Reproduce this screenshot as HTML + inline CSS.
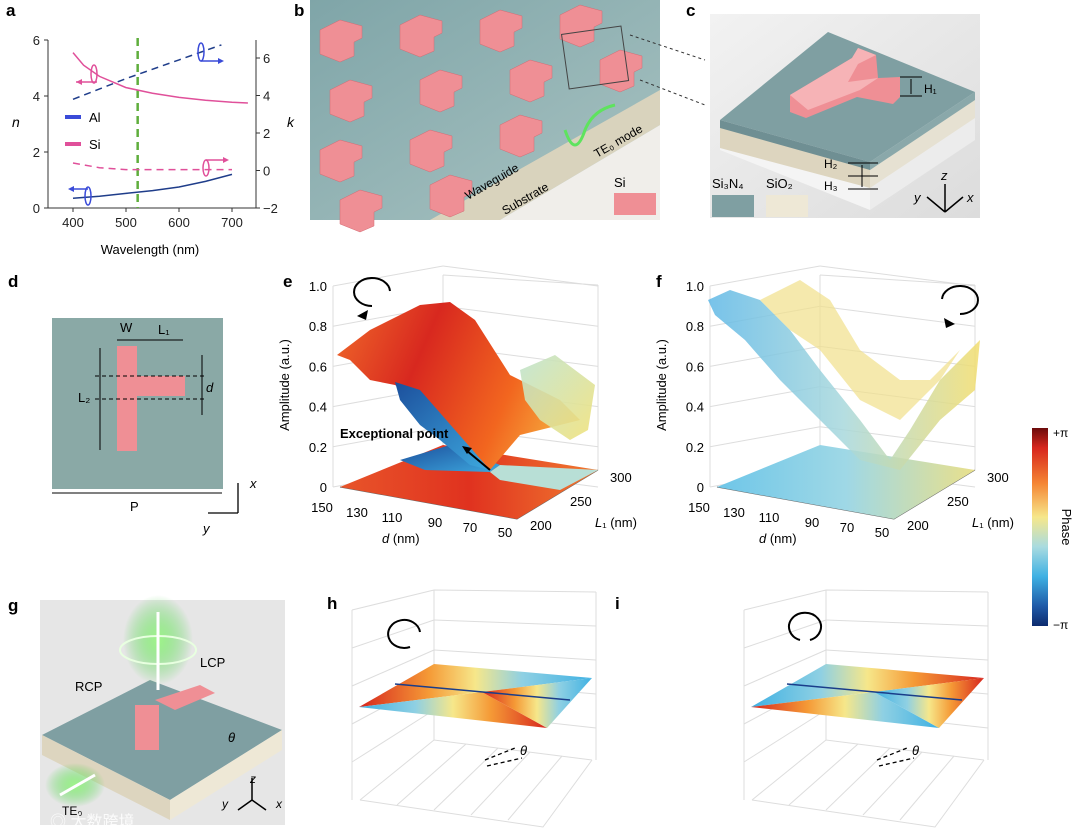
<!DOCTYPE html>
<html><head><meta charset="utf-8"><style>
body{margin:0;background:#fff;}
svg{display:block;font-family:"Liberation Sans","Noto Sans CJK SC",sans-serif;}
</style></head><body>
<svg id="fig" width="1076" height="835" viewBox="0 0 1076 835">
<defs>
<linearGradient id="cbar" x1="0" y1="0" x2="0" y2="1">
<stop offset="0" stop-color="#6b0b0b"/><stop offset="0.1" stop-color="#d7261e"/><stop offset="0.28" stop-color="#f58634"/><stop offset="0.45" stop-color="#f6e78a"/><stop offset="0.6" stop-color="#a9dbe0"/><stop offset="0.75" stop-color="#3fb1e3"/><stop offset="0.9" stop-color="#1f5aa8"/><stop offset="1" stop-color="#0d2b6e"/></linearGradient>
<linearGradient id="orange" x1="0" y1="0" x2="1" y2="0.3"><stop offset="0" stop-color="#f06a2a"/><stop offset="0.4" stop-color="#d8281f"/><stop offset="0.8" stop-color="#f2661f"/><stop offset="1" stop-color="#f59a36"/></linearGradient>
<linearGradient id="blueS" x1="0" y1="0" x2="1" y2="1"><stop offset="0" stop-color="#1c4f9c"/><stop offset="1" stop-color="#3da8de"/></linearGradient>
<linearGradient id="ygS" x1="0" y1="0" x2="1" y2="1"><stop offset="0" stop-color="#bfe3cf"/><stop offset="1" stop-color="#f1e27a"/></linearGradient>
<linearGradient id="floorE" x1="0" y1="0" x2="1" y2="0"><stop offset="0" stop-color="#e8552a"/><stop offset="0.5" stop-color="#e0321f"/><stop offset="1" stop-color="#f07a30"/></linearGradient>
<linearGradient id="floorF" x1="0" y1="0" x2="1" y2="0"><stop offset="0" stop-color="#6ec6e8"/><stop offset="0.5" stop-color="#9fd8e6"/><stop offset="1" stop-color="#e9e08c"/></linearGradient>
<linearGradient id="fsurf" x1="0" y1="0" x2="1" y2="0"><stop offset="0" stop-color="#5fb8e6"/><stop offset="0.5" stop-color="#a8d8dc"/><stop offset="1" stop-color="#f2dd6e"/></linearGradient>
<linearGradient id="phaseTop" x1="0" y1="0" x2="1" y2="0"><stop offset="0" stop-color="#d7261e"/><stop offset="0.3" stop-color="#f59a36"/><stop offset="0.5" stop-color="#f6e78a"/><stop offset="0.7" stop-color="#8fd0e3"/><stop offset="1" stop-color="#3fb1e3"/></linearGradient>
<linearGradient id="phaseBot" x1="0" y1="0" x2="1" y2="0"><stop offset="0" stop-color="#3fb1e3"/><stop offset="0.3" stop-color="#8fd0e3"/><stop offset="0.5" stop-color="#f6e78a"/><stop offset="0.7" stop-color="#f59a36"/><stop offset="1" stop-color="#d7261e"/></linearGradient>
<linearGradient id="bbg" x1="0" y1="0" x2="1" y2="1"><stop offset="0" stop-color="#7fa5a8"/><stop offset="1" stop-color="#a9c3c2"/></linearGradient>
<linearGradient id="cbg" x1="0" y1="0" x2="1" y2="1"><stop offset="0" stop-color="#f2f2f2"/><stop offset="1" stop-color="#dcdcdc"/></linearGradient>
<radialGradient id="glow"><stop offset="0" stop-color="#9ff58a"/><stop offset="1" stop-color="#3fcf3f" stop-opacity="0"/></radialGradient>
</defs>

<!-- Panel a -->
<g id="panel-a">
<text x="6" y="16" font-size="17" font-weight="bold">a</text>
<g id="a-axes" stroke="#333" stroke-width="1" fill="none">
<line x1="48" y1="40" x2="48" y2="208"/>
<line x1="48" y1="208" x2="256" y2="208"/>
<line x1="256" y1="40" x2="256" y2="208"/>
</g>
<g id="a-ticks" font-size="13" fill="#222"></g>
<g id="a-lines"></g>
<text x="12" y="127" font-size="14" font-style="italic">n</text>
<text x="287" y="127" font-size="14" font-style="italic">k</text>
<text x="150" y="254" font-size="13" text-anchor="middle">Wavelength (nm)</text>
<g>
<rect x="65" y="115" width="16" height="4" fill="#3a4bd8"/>
<text x="89" y="122" font-size="13">Al</text>
<rect x="65" y="142" width="16" height="4" fill="#e0509a"/>
<text x="89" y="149" font-size="13">Si</text>
</g>
<g fill="none" stroke-width="1.5">
<ellipse cx="94" cy="74" rx="3" ry="9" stroke="#e0509a"/><line x1="97" y1="82" x2="76" y2="82" stroke="#e0509a"/><path d="M76 82 l6 -3 v6z" fill="#e0509a"/>
<ellipse cx="201" cy="52" rx="3" ry="9" stroke="#3a4bd8"/><line x1="201" y1="61" x2="222" y2="61" stroke="#3a4bd8"/><path d="M224 61 l-6 -3 v6z" fill="#3a4bd8"/>
<ellipse cx="88" cy="196" rx="3" ry="9" stroke="#3a4bd8"/><line x1="88" y1="189" x2="70" y2="189" stroke="#3a4bd8"/><path d="M68 189 l6 -3 v6z" fill="#3a4bd8"/>
<ellipse cx="206" cy="168" rx="3" ry="8" stroke="#e0509a"/><line x1="206" y1="160" x2="226" y2="160" stroke="#e0509a"/><path d="M229 160 l-6 -3 v6z" fill="#e0509a"/>
</g>
</g>

<!-- Panel b -->
<g>
<text x="294" y="16" font-size="17" font-weight="bold">b</text>
<rect x="310" y="0" width="350" height="220" fill="url(#bbg)"/>
<path d="M430 220 L660 90 L660 125 L500 220Z" fill="#d9d3bd"/>
<path d="M500 220 L660 125 L660 220Z" fill="#f0eeea"/>
<g id="b-blocks" fill="#ef8f95" stroke="#d46a72" stroke-width="0.5"></g>
<rect x="565" y="30" width="60" height="55" fill="none" stroke="#444" transform="rotate(-8 595 57)"/>
<text x="468" y="200" font-size="12" transform="rotate(-30 468 200)">Waveguide</text>
<text x="505" y="215" font-size="12" transform="rotate(-30 505 215)">Substrate</text>
<text x="597" y="158" font-size="12" transform="rotate(-30 597 158)">TE₀ mode</text>
<path d="M565 130 q10 30 20 0 q8 -20 30 -25" fill="none" stroke="#5ee35e" stroke-width="3"/>
<text x="614" y="187" font-size="13">Si</text>
<rect x="614" y="193" width="42" height="22" fill="#ef8f95"/>
</g>
<line x1="630" y1="35" x2="705" y2="60" stroke="#333" stroke-dasharray="3,3"/>
<line x1="640" y1="80" x2="705" y2="105" stroke="#333" stroke-dasharray="3,3"/>

<!-- Panel c -->
<g>
<text x="686" y="16" font-size="17" font-weight="bold">c</text>
<rect x="710" y="14" width="270" height="204" fill="url(#cbg)"/>
<path d="M720 127 L870 165 L870 210 L720 150Z" fill="#f4f4f4"/>
<path d="M870 165 L975 98 L975 140 L870 210Z" fill="#ececec"/>
<path d="M720 127 L870 165 L870 188 L720 148Z" fill="#ddd5bf"/>
<path d="M870 165 L975 98 L975 118 L870 188Z" fill="#e6e1d2"/>
<path d="M720 120 L828 32 L975 92 L870 162 Z" fill="#7f9fa2"/>
<path d="M720 120 L870 162 L870 170 L720 128Z" fill="#6f8f93"/>
<path d="M870 162 L975 92 L975 100 L870 170Z" fill="#8aa8aa"/>
<path d="M790 95 L852 58 L858 48 L876 55 L878 78 L900 77 L900 97 L893 104 L857 97 L806 118 L790 112Z" fill="#ef8f95"/>
<path d="M790 95 L852 58 L858 48 L876 55 L858 64 L848 82 L878 78 L860 90 L808 110Z" fill="#f6b3b6"/>
<text x="924" y="93" font-size="12">H₁</text>
<text x="824" y="168" font-size="12">H₂</text>
<text x="824" y="190" font-size="12">H₃</text>
<path d="M900 77 h22 M900 96 h22 M911 79 v15 M848 163 h30 M848 176 h30 M848 189 h30 M862 165 v22" stroke="#000" fill="none"/>
<text x="712" y="188" font-size="13">Si₃N₄</text>
<rect x="712" y="195" width="42" height="22" fill="#7f9fa2"/>
<text x="766" y="188" font-size="13">SiO₂</text>
<rect x="766" y="195" width="42" height="22" fill="#eee8d6"/>
<g stroke="#000" stroke-width="1.5" fill="none"><path d="M945 212 v-28 M945 212 l-18 -15 M945 212 l18 -15"/></g>
<text x="941" y="180" font-size="13" font-style="italic">z</text><text x="914" y="202" font-size="13" font-style="italic">y</text><text x="967" y="202" font-size="13" font-style="italic">x</text>
</g>

<!-- Panel d -->
<g>
<text x="8" y="287" font-size="17" font-weight="bold">d</text>
<rect x="52" y="318" width="171" height="171" fill="#8aa9a6"/>
<path d="M117 346 h20 v30 h48 v20 h-48 v55 h-20z" fill="#ef8f95"/>
<g stroke="#000" fill="none" stroke-width="1">
<path d="M117 340 h20 M137 340 h46 M100 348 v102 M202 355 v60 M52 493 h170"/>
<path d="M95 376 h110 M95 399 h110" stroke-dasharray="4,3"/>
</g>
<text x="120" y="332" font-size="13">W</text>
<text x="158" y="334" font-size="13">L₁</text>
<text x="78" y="402" font-size="13">L₂</text>
<text x="206" y="392" font-size="13" font-style="italic">d</text>
<text x="130" y="511" font-size="13">P</text>
<path d="M238 513 v-30 M238 513 h-30" stroke="#000" stroke-width="1.3" fill="none"/>
<text x="250" y="488" font-size="13" font-style="italic">x</text><text x="203" y="533" font-size="13" font-style="italic">y</text>
</g>

<!-- Panel e -->
<g>
<text x="283" y="287" font-size="17" font-weight="bold">e</text>
<g id="e-grid" stroke="#ddd" fill="none"></g>
<path d="M340 487 L517 519 L598 470 L443 445 Z" fill="url(#floorE)"/>
<path d="M400 460 L450 445 L500 465 L490 472 L425 470Z" fill="url(#blueS)"/>
<path d="M490 472 L500 465 L598 470 L560 490 L500 480Z" fill="#b8dfd6"/>
<path d="M337 355 L370 330 L420 305 L450 302 L475 320 L510 375 L560 400 L580 420 L560 425 L520 435 L490 470 L455 440 L420 400 L395 385 L370 380 L350 360Z" fill="url(#orange)"/>
<path d="M395 382 L420 390 L455 430 L490 470 L470 465 L440 440 L420 425 L400 400Z" fill="url(#blueS)"/>
<path d="M520 370 L555 355 L595 385 L588 430 L570 440 L540 420 L525 400Z" fill="url(#ygS)" opacity="0.9"/>
<path d="M372 306 a18 14 0 1 1 18 -15" fill="none" stroke="#000" stroke-width="2"/><path d="M357 316 l11 -6 -2 10z" fill="#000"/>
<text x="340" y="438" font-size="13" font-weight="bold">Exceptional point</text>
<line x1="490" y1="470" x2="466" y2="450" stroke="#000" stroke-width="2"/><path d="M462 446 l10 2 -5 6z" fill="#000"/>
<g id="e-ticks" font-size="13"></g>
<text x="289" y="385" font-size="13" text-anchor="middle" transform="rotate(-90 289 385)">Amplitude (a.u.)</text>
<text x="382" y="543" font-size="13"><tspan font-style="italic">d</tspan> (nm)</text>
<text x="595" y="527" font-size="13"><tspan font-style="italic">L</tspan>₁ (nm)</text>
</g>

<!-- Panel f -->
<g>
<text x="656" y="287" font-size="17" font-weight="bold">f</text>
<g id="f-grid" stroke="#ddd" fill="none"></g>
<path d="M717 487 L894 519 L975 470 L820 445 Z" fill="url(#floorF)"/>
<path d="M708 300 L730 290 L760 300 L790 330 L820 370 L860 420 L890 460 L910 430 L940 380 L980 340 L975 390 L940 420 L900 470 L860 460 L820 420 L780 380 L745 340 L715 315Z" fill="url(#fsurf)" opacity="0.85"/>
<path d="M760 300 L800 280 L830 300 L860 350 L900 380 L930 380 L960 350 L940 380 L900 420 L860 400 L820 350 L790 330Z" fill="#f1e08a" opacity="0.7"/>
<path d="M960 314 a18 14 0 1 0 -18 -15" fill="none" stroke="#000" stroke-width="2"/><path d="M955 324 l-11 -6 2 10z" fill="#000"/>
<g id="f-ticks" font-size="13"></g>
<text x="666" y="385" font-size="13" text-anchor="middle" transform="rotate(-90 666 385)">Amplitude (a.u.)</text>
<text x="759" y="543" font-size="13"><tspan font-style="italic">d</tspan> (nm)</text>
<text x="972" y="527" font-size="13"><tspan font-style="italic">L</tspan>₁ (nm)</text>
</g>

<!-- Colorbar -->
<g>
<rect x="1032" y="428" width="16" height="198" fill="url(#cbar)"/>
<text x="1053" y="437" font-size="12">+π</text>
<text x="1053" y="629" font-size="12">−π</text>
<text x="1062" y="527" font-size="13" text-anchor="middle" transform="rotate(90 1062 527)">Phase</text>
</g>

<!-- Panel g -->
<g>
<text x="8" y="611" font-size="17" font-weight="bold">g</text>
<rect x="40" y="600" width="245" height="225" fill="#e6e6e6"/>
<path d="M42 735 L150 680 L282 730 L170 800Z" fill="#7f9fa2"/>
<path d="M42 735 L170 800 L170 820 L42 755Z" fill="#ddd5bf"/>
<path d="M170 800 L282 730 L282 750 L170 820Z" fill="#eee8d6"/>
<rect x="135" y="705" width="24" height="45" fill="#ef8f95"/><path d="M155 700 l45 -15 l15 8 l-40 17z" fill="#ef8f95"/>
<ellipse cx="158" cy="640" rx="35" ry="45" fill="url(#glow)"/>
<ellipse cx="158" cy="650" rx="38" ry="14" fill="none" stroke="#e8ffe0" stroke-width="2"/>
<line x1="158" y1="690" x2="158" y2="612" stroke="#fff" stroke-width="3"/>
<text x="200" y="667" font-size="13">LCP</text>
<text x="75" y="691" font-size="13">RCP</text>
<ellipse cx="75" cy="785" rx="30" ry="22" fill="url(#glow)"/>
<line x1="60" y1="795" x2="95" y2="775" stroke="#fff" stroke-width="3"/>
<text x="62" y="815" font-size="12">TE₀</text>
<text x="228" y="742" font-size="13" font-style="italic">θ</text>
<path d="M252 800 v-22 M252 800 l-14 10 M252 800 l14 10" stroke="#000" stroke-width="1.5" fill="none"/>
<text x="250" y="783" font-size="12" font-style="italic">z</text><text x="222" y="808" font-size="12" font-style="italic">y</text><text x="276" y="808" font-size="12" font-style="italic">x</text>
<text x="50" y="827" font-size="16" fill="#fff" opacity="0.85">◎ 大数跨境</text>
</g>

<!-- Panels h, i -->
<g id="hi"></g>
</svg>
<script>
const NS='http://www.w3.org/2000/svg';
function mk(parent,tag,attrs,text){const e=document.createElementNS(NS,tag);for(const k in attrs)e.setAttribute(k,attrs[k]);if(text!==undefined)e.textContent=text;parent.appendChild(e);return e;}

// ---- Panel a data ----
const wlSiN=[400,420,450,500,550,600,650,700,730];
const siN=[5.55,5.1,4.7,4.3,4.1,3.95,3.85,3.78,3.75];
const wlAlN=[400,450,500,550,600,650,700];
const alN=[0.35,0.42,0.52,0.62,0.75,0.95,1.2];
const wlAlK=[400,500,600,680];
const alK=[3.8,4.9,5.9,6.7];
const wlSiK=[400,450,500,550,600,650,700];
const siK=[0.4,0.15,0.05,0.05,0.05,0.05,0.05];
const xTicks=[400,500,600,700];
const nTicks=[0,2,4,6];
const kTicks=[-2,0,2,4,6];
const markerWl=522;

const xS=w=>73+(w-400)*159/300;
const nS=n=>208-n*28;
const kS=k=>170.5-k*18.75;
const aT=document.getElementById('a-ticks');
xTicks.forEach(t=>{const l=mk(aT,'line',{x1:xS(t),x2:xS(t),y1:208,y2:212,stroke:'#333'});


const tx=mk(aT,'text',{x:xS(t),y:227,'text-anchor':'middle'},t);

});
nTicks.forEach(t=>{const tx=mk(aT,'text',{x:40,y:nS(t)+5,'text-anchor':'end'},t);


mk(aT,'line',{x1:44,x2:48,y1:nS(t),y2:nS(t),stroke:'#333'});});
kTicks.forEach(t=>{const tx=mk(aT,'text',{x:263,y:kS(t)+5},t<0?'−'+(-t):t);


mk(aT,'line',{x1:256,x2:260,y1:kS(t),y2:kS(t),stroke:'#333'});});
const aL=document.getElementById('a-lines');
function series(ws,vs,sc,color,dash,name){const d=ws.map((w,i)=>(i?'L':'M')+xS(w).toFixed(1)+' '+sc(vs[i]).toFixed(1)).join(' ');
const p=mk(aL,'path',{d:d,fill:'none',stroke:color,'stroke-width':1.5,'stroke-dasharray':dash});

}
const ml=mk(aL,'line',{x1:xS(markerWl),x2:xS(markerWl),y1:38,y2:208,stroke:'#5fae3c','stroke-width':2.5,'stroke-dasharray':'8,5'});


series(wlSiN,siN,nS,'#e0509a','','si-n-line');
series(wlAlN,alN,nS,'#1f3d8a','','al-n-line');
series(wlAlK,alK,kS,'#1f3d8a','7,5','al-k-line');
series(wlSiK,siK,kS,'#e0509a','7,5','si-k-line');

// ---- Panel b blocks ----
const bB=document.getElementById('b-blocks');
const blockRows=[[320,20],[400,15],[480,10],[560,5],[330,80],[420,70],[510,60],[600,50],[320,140],[410,130],[500,115],[340,190],[430,175]];
blockRows.forEach(([x,y])=>{const g=mk(bB,'path',{d:`M${x} ${y+10} l20 -10 l22 6 l0 12 l-8 4 l0 14 l-14 6 l-20 -8z`});

});

// ---- Panels e/f ticks and grid ----
const ampTicks=[0,0.2,0.4,0.6,0.8,1.0];
const dTicks=[150,130,110,90,70,50];
const l1Ticks=[200,250,300];
function panel3d(ox,gid,tid){
 const zS=v=>487-v*201;
 const G=document.getElementById(gid),T=document.getElementById(tid);
 mk(G,'path',{d:`M${333+ox} 286 V487 M${443+ox} 275 V445 M${598+ox} 285 V470 M${443+ox} 275 L${598+ox} 285`});
 ampTicks.forEach(v=>{mk(G,'line',{x1:333+ox,y1:zS(v),x2:443+ox,y2:zS(v)-20});mk(G,'line',{x1:443+ox,y1:zS(v)-20,x2:598+ox,y2:zS(v)});
  const t=mk(T,'text',{x:327+ox,y:zS(v)+5,'text-anchor':'end'},v===0?'0':v.toFixed(1));
  
  });
 dTicks.forEach((v,i)=>{const x=322+ox+i*35+ (i>2?8:0), y=512+i*5;
  const t=mk(T,'text',{x:x,y:y,'text-anchor':'middle'},v);
  
  });
 l1Ticks.forEach((v,i)=>{const t=mk(T,'text',{x:530+ox+i*40,y:530-i*24},v);
  
  });
 mk(G,'path',{d:`M${340+ox} 487 L${517+ox} 519 L${598+ox} 470`,stroke:'#666'});
}
panel3d(0,'e-grid','e-ticks');
panel3d(377,'f-grid','f-ticks');

// ---- Panels h, i ----
const hiPanels=[{label:'h',ox:0,mirror:false},{label:'i',ox:392,mirror:true}];
const HI=document.getElementById('hi');
hiPanels.forEach(p=>{const g=mk(HI,'g',{transform:`translate(${p.ox} 0)`});
 
 
 const lab=mk(g,'text',{x:p.label==='h'?327:615-p.ox,y:609,'font-size':17,'font-weight':'bold'},p.label);
 
 
 const gr=mk(g,'g',{stroke:'#ddd',fill:'none'});
 mk(gr,'path',{d:'M352 610 V800 M434 590 V740 M596 592 V760 M434 590 L596 592 M352 610 L434 590 M360 800 L543 827 L592 760 M360 800 L434 740 L592 760'});
 for(let i=1;i<5;i++){mk(gr,'line',{x1:352,y1:610+i*38,x2:434,y2:590+i*30});mk(gr,'line',{x1:434,y1:590+i*30,x2:596,y2:592+i*34});
  mk(gr,'line',{x1:360+i*37,y1:800+i*5,x2:434+i*32,y2:740+i*4});}
 const top=p.mirror?'url(#phaseBot)':'url(#phaseTop)', bot=p.mirror?'url(#phaseTop)':'url(#phaseBot)';
 mk(g,'path',{d:'M359 707 L434 664 L592 678 L482 692 Z',fill:top});
 mk(g,'path',{d:'M359 707 L482 692 L547 728 Z',fill:bot});
 mk(g,'path',{d:'M482 692 L592 678 L547 728 Z',fill:top});
 mk(g,'line',{x1:395,y1:684,x2:570,y2:700,stroke:'#1a3d8a','stroke-width':1.5});
 const cx=p.mirror?410:402,d=p.mirror?`M${cx+8} 640 a16 14 0 1 0 -10 0`:`M${cx+18} 632 a16 14 0 1 0 -10 15`;
 mk(g,'path',{d:d,fill:'none',stroke:'#000','stroke-width':2});
 mk(g,'path',{d:'M485 760 l30 -12 M487 766 l35 -8',stroke:'#000','stroke-dasharray':'4,3','stroke-width':1.3});
 mk(g,'text',{x:520,y:755,'font-size':13,'font-style':'italic'},'θ');
});
</script>
</body></html>
